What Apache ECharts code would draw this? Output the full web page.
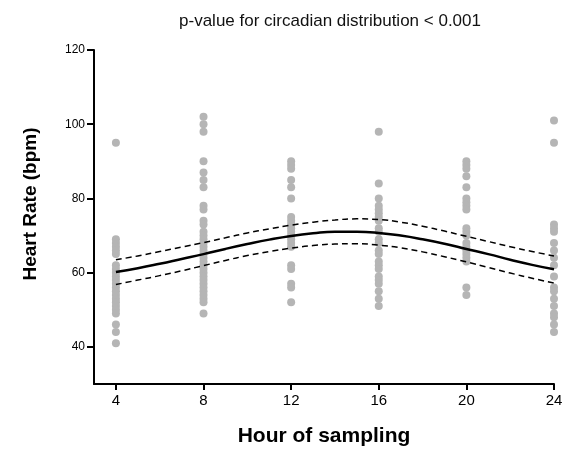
<!DOCTYPE html>
<html>
<head>
<meta charset="utf-8">
<script src="https://cdn.jsdelivr.net/npm/echarts@6/dist/echarts.min.js"></script>
<style>
html, body { margin: 0; padding: 0; background: #fff; }
#chart { width: 576px; height: 453px; }
</style>
</head>
<body>
<div id="chart"></div>
<script>
// 采样时间点
var hours = [4, 8, 12, 16, 20, 24];
// 每个时间点的心率 (bpm)
var hr4 = [95, 69, 68, 67, 66, 65, 62, 61, 60, 59, 58, 57, 56, 55, 54, 53, 52, 51, 50, 49, 46, 44, 41];
var hr8 = [102, 100, 98, 90, 87, 85, 83, 78, 77, 74, 73, 71, 70, 69, 68, 67, 66, 65, 64, 63, 62, 61, 60, 59, 58, 57, 56, 55, 54, 53, 52, 49];
var hr12 = [90, 89, 88, 85, 83, 80, 75, 74, 73, 72, 71, 70, 69, 68, 67, 62, 61, 57, 56, 52];
var hr16 = [98, 84, 80, 78, 77, 76, 75, 74, 72, 71, 69, 68, 66, 65, 63, 62, 61, 59, 58, 57, 55, 53, 51];
var hr20 = [90, 89, 88, 86, 83, 80, 79, 78, 77, 72, 71, 70, 68, 67, 66, 65, 64, 63, 56, 54];
var hr24 = [101, 95, 73, 72, 71, 68, 66, 64, 62, 59, 56, 55, 53, 51, 49, 48, 46, 44];

// 拟合曲线 (4..24 每小时)
var fitHours = [4, 5, 6, 7, 8, 9, 10, 11, 12, 13, 14, 15, 16, 17, 18, 19, 20, 21, 22, 23, 24];
var fitMid = [60.2, 61.2, 62.4, 63.7, 65.0, 66.4, 67.7, 68.9, 69.9, 70.6, 71.0, 71.0, 70.7, 70.0, 69.0, 67.8, 66.4, 65.0, 63.5, 62.1, 60.9];
var fitUpper = [63.5, 64.5, 65.7, 66.9, 68.1, 69.4, 70.7, 71.8, 72.8, 73.6, 74.2, 74.5, 74.3, 73.6, 72.5, 71.2, 69.8, 68.4, 67.0, 65.7, 64.5];
var fitLower = [56.8, 58.0, 59.2, 60.5, 61.9, 63.3, 64.6, 65.7, 66.6, 67.3, 67.7, 67.8, 67.4, 66.7, 65.6, 64.3, 62.9, 61.4, 59.9, 58.5, 57.2];

var yTicks = [40, 60, 80, 100, 120];

var groups = [hr4, hr8, hr12, hr16, hr20, hr24];
var points = [];
groups.forEach(function (arr, i) {
	arr.forEach(function (v) {
		points.push([hours[i], v]);
	});
});
function pair(ys) {
	return fitHours.map(function (h, i) { return [h, ys[i]]; });
}

var myChart = echarts.init(document.getElementById('chart'));
var FONT = 'Liberation Sans, Arial, sans-serif';
myChart.setOption({
	animation: false,
	title: {
		text: 'p-value for circadian distribution < 0.001',
		left: 325,
		textAlign: 'center',
		top: 8,
		textStyle: { fontFamily: FONT, fontSize: 17, fontWeight: 'normal', color: '#111' }
	},
	// y轴标题
	graphic: [{
		type: 'text',
		x: 31,
		y: 204,
		rotation: Math.PI / 2,
		style: {
			text: 'Heart Rate (bpm)',
			font: 'bold 19px Liberation Sans, Arial, sans-serif',
			fill: '#000',
			align: 'center',
			verticalAlign: 'middle'
		}
	}],
	grid: { left: 94, top: 50, right: 22, bottom: 69 },
	xAxis: {
		type: 'value',
		min: 3,
		max: 24,
		name: 'Hour of sampling',
		nameLocation: 'middle',
		nameGap: 42,
		nameTextStyle: { fontFamily: FONT, fontSize: 21, fontWeight: 'bold', color: '#000' },
		axisLine: { onZero: false, lineStyle: { color: '#000', width: 2 } },
		axisTick: { show: true, customValues: hours, length: 6, lineStyle: { color: '#000', width: 2 } },
		axisLabel: { customValues: hours, fontFamily: FONT, fontSize: 15, color: '#000', margin: 9 },
		splitLine: { show: false }
	},
	yAxis: {
		type: 'value',
		min: 30,
		max: 120,
		axisLine: { show: true, onZero: false, lineStyle: { color: '#000', width: 2 } },
		axisTick: { show: true, customValues: yTicks, length: 7, lineStyle: { color: '#000', width: 2 } },
		axisLabel: { customValues: yTicks, fontFamily: FONT, fontSize: 12, color: '#000', margin: 9 },
		splitLine: { show: false }
	},
	series: [
		{
			type: 'scatter',
			data: points,
			symbolSize: 8,
			itemStyle: { color: '#b5b5b5', opacity: 1 },
			z: 1
		},
		{
			type: 'line',
			data: pair(fitMid),
			smooth: true,
			showSymbol: false,
			lineStyle: { color: '#000', width: 2.5 },
			z: 3
		},
		{
			type: 'line',
			data: pair(fitUpper),
			smooth: true,
			showSymbol: false,
			lineStyle: { color: '#000', width: 1.5, type: [6, 4] },
			z: 3
		},
		{
			type: 'line',
			data: pair(fitLower),
			smooth: true,
			showSymbol: false,
			lineStyle: { color: '#000', width: 1.5, type: [6, 4] },
			z: 3
		}
	]
});
</script>
</body>
</html>
